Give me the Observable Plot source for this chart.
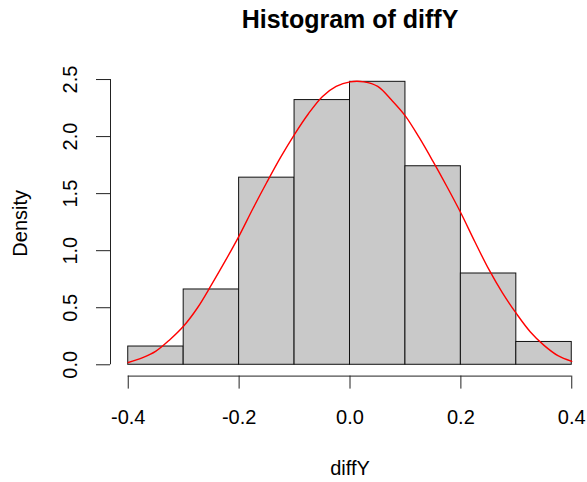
<!DOCTYPE html>
<html>
<head>
<meta charset="utf-8">
<script src="https://cdn.jsdelivr.net/npm/d3@7"></script>
<script src="https://cdn.jsdelivr.net/npm/@observablehq/plot@0.6"></script>
<style>
  html, body { margin: 0; padding: 0; background: #ffffff; overflow: hidden; }
</style>
</head>
<body>
<div id="chart"></div>
<script>
// Histogram bins (edges) and densities
const binEdges = [-0.4, -0.3, -0.2, -0.1, 0.0, 0.1, 0.2, 0.3, 0.4];
const densities = [0.16, 0.66, 1.64, 2.32, 2.48, 1.74, 0.80, 0.20];

// Red density curve
const curveX = [-0.4, -0.375, -0.35, -0.325, -0.3, -0.275, -0.25, -0.225, -0.2, -0.175, -0.15, -0.125, -0.1, -0.075, -0.05, -0.025, 0, 0.025, 0.05, 0.075, 0.1, 0.125, 0.15, 0.175, 0.2, 0.225, 0.25, 0.275, 0.3, 0.325, 0.35, 0.375, 0.4];
const curveY = [0.02, 0.06, 0.12, 0.22, 0.34, 0.50, 0.70, 0.91, 1.13, 1.37, 1.60, 1.82, 2.02, 2.20, 2.35, 2.44, 2.48, 2.48, 2.44, 2.32, 2.18, 1.99, 1.78, 1.56, 1.33, 1.08, 0.84, 0.63, 0.45, 0.29, 0.17, 0.08, 0.03];

// Ticks
const xTicks = [-0.4, -0.2, 0.0, 0.2, 0.4];
const xTickLabels = ["-0.4", "-0.2", "0.0", "0.2", "0.4"];
const yTicks = [0.0, 0.5, 1.0, 1.5, 2.0, 2.5];
const yTickLabels = ["0.0", "0.5", "1.0", "1.5", "2.0", "2.5"];

const title = "Histogram of diffY";
const xLabel = "diffY";
const yLabel = "Density";

// R-style 4% extension of the data range
const xMin = -0.4, xMax = 0.4, yMax = 2.48;
const xPad = (xMax - xMin) * 0.04, yPad = yMax * 0.04;
const xDomain = [xMin - xPad, xMax + xPad];
const yDomain = [-yPad, yMax + yPad];

const bars = densities.map((d, i) => ({x1: binEdges[i], x2: binEdges[i + 1], y: d}));
const curve = curveX.map((x, i) => ({x, y: curveY[i]}));

const font = "'Liberation Sans', Arial, Helvetica, sans-serif";
const fs = 20;

const chart = Plot.plot({
  width: 587,
  height: 482,
  marginLeft: 110,
  marginRight: 0,
  marginTop: 70,
  marginBottom: 106.4,
  style: {fontFamily: font, fontSize: fs + "px", background: "#ffffff", color: "#000", overflow: "visible"},
  x: {domain: xDomain, range: [110, 589], label: null},
  y: {domain: yDomain, label: null},
  marks: [
    Plot.rect(bars, {x1: "x1", x2: "x2", y1: 0, y2: "y", fill: "#c9c9c9", stroke: "#111", strokeWidth: 1}),
    Plot.line(curve, {x: "x", y: "y", stroke: "#ff0000", strokeWidth: 1.4, curve: "catmull-rom"}),
    // axis lines
    Plot.ruleY([yDomain[0]], {x1: xTicks[0], x2: xTicks[xTicks.length - 1], stroke: "#222", strokeWidth: 1}),
    Plot.ruleX([xDomain[0]], {y1: yTicks[0], y2: yTicks[yTicks.length - 1], stroke: "#222", strokeWidth: 1}),
    // ticks
    Plot.axisX(xTicks, {anchor: "bottom", label: null, tickSize: 13, tickPadding: 21, tickFormat: (d, i) => xTickLabels[i], fontSize: fs, stroke: "#222"}),
    Plot.axisY(yTicks, {anchor: "left", label: null, tickSize: 14, tickFormat: () => "", stroke: "#222"}),
    Plot.text(yTicks, {y: d => d, text: (d, i) => yTickLabels[i], frameAnchor: "left", dx: -40, rotate: -90, textAnchor: "middle", lineAnchor: "middle", fontSize: fs, fill: "#000"}),
    // titles
    Plot.text([title], {frameAnchor: "top", dx: 1, dy: -43, lineAnchor: "bottom", textAnchor: "middle", fontSize: 25, fontWeight: "bold", fill: "#000"}),
    Plot.text([xLabel], {frameAnchor: "bottom", dx: 1, dy: 99, lineAnchor: "bottom", textAnchor: "middle", fontSize: fs, fill: "#000"}),
    Plot.text([yLabel], {frameAnchor: "left", dx: -90, rotate: -90, textAnchor: "middle", lineAnchor: "middle", fontSize: fs, fill: "#000"})
  ]
});
document.getElementById("chart").appendChild(chart);
</script>
</body>
</html>
